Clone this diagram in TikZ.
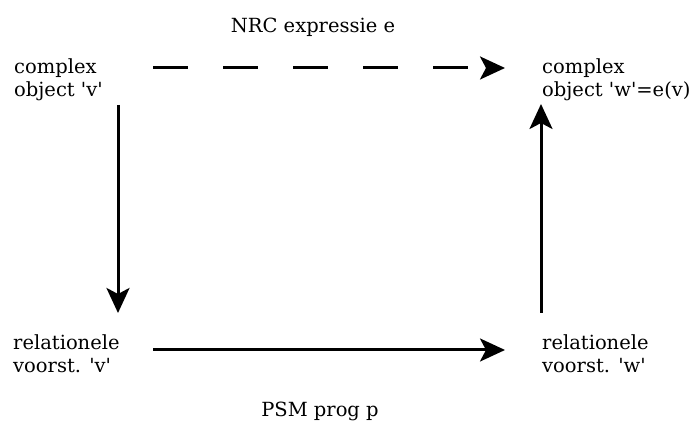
\documentclass[tikz,border=0pt]{standalone}
\usepackage{fontspec}
\setmainfont{DejaVu Serif}
\usetikzlibrary{arrows.meta}

\begin{document}
\begin{tikzpicture}[x=1pt,y=1pt,
  lbl/.style={inner sep=0pt,align=left,anchor=base west,font=\fontsize{19.5}{23}\selectfont},
  arrlbl/.style={inner sep=0pt,anchor=base,font=\fontsize{19.5}{23}\selectfont},
  arr/.style={line width=3pt,-{Stealth[length=25pt,width=23pt,inset=6pt]}}]
\useasboundingbox (0,0) rectangle (694,425);
% base is the last line of the node
\node[lbl] (cv) at (14,328) {complex\\object \textquotesingle v\textquotesingle};
\node[lbl] (cw) at (542,328) {complex\\object \textquotesingle w\textquotesingle=e(v)};
\node[lbl] (rv) at (13,52) {relationele\\voorst. \textquotesingle v\textquotesingle};
\node[lbl] (rw) at (542,52) {relationele\\voorst. \textquotesingle w\textquotesingle};
\node[arrlbl] (nrc) at (313,392) {NRC expressie e};
\node[arrlbl] (psm) at (320,8) {PSM prog p};
\coordinate (cvr) at (153,357);
\coordinate (cwl) at (505,357);
\coordinate (cvb) at (118,320);
\coordinate (rvt) at (118,112);
\coordinate (rvr) at (153,75);
\coordinate (rwl) at (505,75);
\coordinate (rwt) at (541,112);
\coordinate (cwb) at (541,321);
\draw[arr,dash pattern=on 35pt off 35pt] (cvr)--(cwl);
\draw[arr] (cvb)--(rvt);
\draw[arr] (rvr)--(rwl);
\draw[arr] (rwt)--(cwb);
\end{tikzpicture}
\end{document}
